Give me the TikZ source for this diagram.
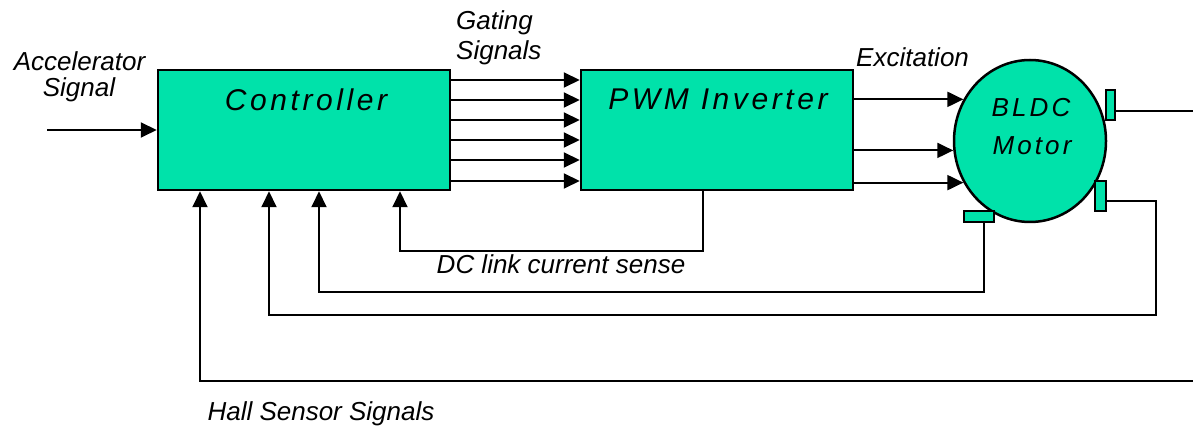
\documentclass[tikz,border=0pt]{standalone}
\usepackage{fontspec}
\setmainfont{Liberation Sans}
\newfontfamily\spacedfont[LetterSpace=12]{Liberation Sans}
\usetikzlibrary{arrows.meta,shapes.geometric}
\definecolor{boxgreen}{RGB}{0,226,170}
\begin{document}
\begin{tikzpicture}[x=1pt,y=-1pt,
  blk/.style={draw=black, line width=2.5pt, fill=boxgreen, inner sep=0pt, rectangle},
  sensor/.style={draw=black, line width=1.5pt, fill=boxgreen, inner sep=0pt, rectangle},
  wire/.style={line width=2pt},
  arr/.style={line width=2pt, -{Triangle[length=16pt,width=15pt]}},
  lbl/.style={font=\fontsize{26}{30}\selectfont\itshape, inner sep=0pt},
  title/.style={font=\spacedfont\fontsize{30}{34}\selectfont\itshape, inner sep=0pt},
  mtitle/.style={font=\spacedfont\fontsize{26}{30}\selectfont\itshape, inner sep=0pt},
]
\useasboundingbox (0,0) rectangle (1193,427);

% blocks
\node[blk, minimum width=292pt, minimum height=120pt] (ctrl) at (304,130) {};
\node[blk, minimum width=272pt, minimum height=120pt] (pwm) at (717,130) {};
\node[blk, ellipse, minimum width=152pt, minimum height=162pt] (motor) at (1030,141) {};

% sensors
\node[sensor, minimum width=9pt, minimum height=30pt] (s1) at (1110.5,105) {};
\node[sensor, minimum width=11pt, minimum height=30pt] (s2) at (1100.5,196) {};
\node[sensor, minimum width=30pt, minimum height=11pt] (s3) at (979,216.5) {};

% helper coordinates
\coordinate (accin) at (47,130);
\coordinate (g1) at (0,80);
\coordinate (g2) at (0,100);
\coordinate (g3) at (0,120);
\coordinate (g4) at (0,140);
\coordinate (g5) at (0,160);
\coordinate (g6) at (0,181);
\coordinate (e1) at (1193,111);
\coordinate (e2) at (1193,381);
\coordinate (c2) at (1156,201);
\coordinate (r2) at (269,315);
\coordinate (c3) at (984,292);
\coordinate (r3) at (319,292);
\coordinate (r1) at (200,381);
\coordinate (dcr) at (703,251);
\coordinate (dcl) at (400,251);

% input
\draw[arr] (accin) -- (ctrl.west |- accin);

% gating signals
\foreach \g in {g1,g2,g3,g4,g5,g6}
  \draw[arr] (ctrl.east |- \g) -- (pwm.west |- \g);

% excitation
\foreach \a in {148,187,212}
  \draw[arr] (pwm.east |- motor.\a) -- (motor.\a);

% shaft / hall sensor lines
\draw[wire] (s1.east |- e1) -- (e1);
\draw[arr] (s2.east |- c2) -- (c2) -- (c2 |- r2) -- (r2) -- (ctrl.south -| r2);
\draw[arr] (s3.south -| c3) -- (c3) -- (r3) -- (ctrl.south -| r3);
\draw[arr] (e2) -- (r1) -- (ctrl.south -| r1);

% DC link current sense
\draw[arr] (pwm.south -| dcr) -- (dcr) -- (dcl) -- (ctrl.south -| dcl);

% labels
\node[lbl, anchor=base] (tacc1) at (79.5,71) {Accelerator};
\node[lbl, anchor=base] (tacc2) at (79,97) {Signal};
\node[lbl, anchor=base west] (tgate1) at (456,30) {Gating};
\node[lbl, anchor=base west] (tgate2) at (456,60) {Signals};
\node[lbl, anchor=base west] (texc) at (856,67) {Excitation};
\node[title, anchor=base] (tctrl) at (306,111) {Controller};
\node[title, anchor=base] (tpwm) at (718,110) {PWM Inverter};
\node[mtitle, anchor=base] (tm1) at (1031,117) {BLDC};
\node[mtitle, anchor=base] (tm2) at (1032,155) {Motor};
\node[lbl, anchor=base] (tdc) at (561,274) {DC link current sense};
\node[lbl, anchor=base] (thall) at (321,420) {Hall Sensor Signals};
\end{tikzpicture}
\end{document}
